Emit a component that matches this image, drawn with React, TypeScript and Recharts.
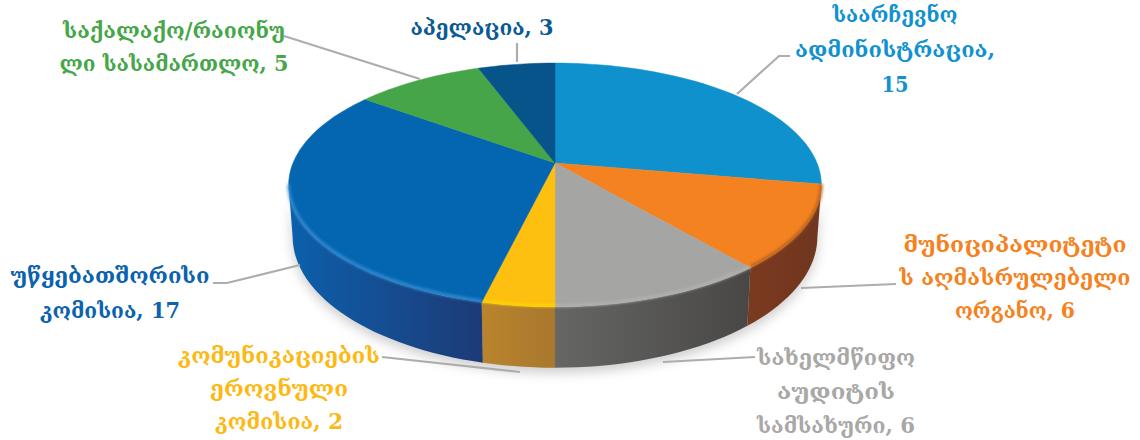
import { PieChart, Pie } from 'recharts'

const sliceNames = [
  'საარჩევნო ადმინისტრაცია',
  'მუნიციპალიტეტის აღმასრულებელი ორგანო',
  'სახელმწიფო აუდიტის სამსახური',
  'კომუნიკაციების ეროვნული კომისია',
  'უწყებათშორისი კომისია',
  'საქალაქო/რაიონული სასამართლო',
  'აპელაცია',
]
const sliceValues = [15, 6, 6, 2, 17, 5, 3]
const labelLines = [
  ['საარჩევნო', 'ადმინისტრაცია,', '15'],
  ['მუნიციპალიტეტი', 'ს აღმასრულებელი', 'ორგანო, 6'],
  ['სახელმწიფო', 'აუდიტის', 'სამსახური, 6'],
  ['კომუნიკაციების', 'ეროვნული', 'კომისია, 2'],
  ['უწყებათშორისი', 'კომისია, 17'],
  ['საქალაქო/რაიონუ', 'ლი სასამართლო, 5'],
  ['აპელაცია, 3'],
]

const TOP_COLORS = ['#0f91cd', '#f58220', '#a5a5a3', '#fdbf10', '#0465b1', '#47a549', '#06548a']
const TEXT_COLORS = ['#1192cf', '#f58220', '#a8a8a6', '#fdb913', '#0b62ad', '#46a649', '#0b5a92']
const WALL_LEFT = ['#0f78ad', '#7a3a1f', '#666664', '#b9842c', '#0c60ac', '#2c7a30', '#04406c']
const WALL_RIGHT = ['#0a5c85', '#70361f', '#484745', '#a8782e', '#1d3a76', '#2c7a30', '#04406c']
const RIM_COLORS = ['#0f91cd', '#a85a1e', '#b4b4b2', '#ffd800', '#3d94d6', '#47a549', '#06548a']

// label anchor (centre x, first baseline, line step), line widths and leader polyline
const LABEL_POS = [
  { x: 895, y: 22, step: 35, widths: [125, 200, 27], line: [[737, 94], [779, 56], [790, 56]] },
  { x: 1015, y: 252, step: 33, widths: [223, 231, 120], line: [[801, 288], [896, 284]] },
  { x: 836, y: 365, step: 34, widths: [158, 118, 158], line: [[663, 362], [755, 357]] },
  { x: 279, y: 363, step: 33, widths: [202, 138, 128], line: [[520, 372], [382, 357]] },
  { x: 110, y: 283, step: 35, widths: [199, 140], line: [[300, 265], [227, 283], [213, 283]] },
  { x: 174, y: 38, step: 33, widths: [222, 229], line: [[420, 79], [284, 36]] },
  { x: 482, y: 35, step: 33, widths: [143], line: [[517, 62], [517, 43]] },
]

const chartData = sliceNames.map((name, i) => ({ name, value: sliceValues[i], fill: TOP_COLORS[i] }))

// fake 3D: the flat pie angles go through a small perspective projection
const TILT = 0.18
const FLATTEN = 0.45
const DEPTH = 50
const FRONT_FROM = 100.4
const FRONT_TO = 259.6

function project(p: any, theta: number, depth = 0) {
  const t = (theta * Math.PI) / 180
  const w = 1 + TILT * Math.cos(t)
  const squeeze = depth > 0 ? 0.985 : 1
  const x = p.cx + (squeeze * p.outerRadius * Math.sin(t)) / w
  const y = p.cy - (p.outerRadius * FLATTEN * Math.cos(t)) / w + depth / w
  return `${x.toFixed(1)},${y.toFixed(1)}`
}

function arc(p: any, from: number, to: number, depth = 0) {
  const pts: string[] = []
  const n = Math.max(2, Math.ceil(Math.abs(to - from) / 2))
  for (let i = 0; i <= n; i++) pts.push(project(p, from + ((to - from) * i) / n, depth))
  return pts
}

// recharts angles run counter clockwise from east, here clockwise from north
function thetas(p: any) {
  return [90 - p.startAngle, 90 - p.endAngle]
}

function WallShape(props: any) {
  const i = sliceNames.indexOf(props.name)
  const [a, b] = thetas(props)
  const from = Math.max(a, FRONT_FROM)
  const to = Math.min(b, FRONT_TO)
  if (to <= from) return <g />
  const top = arc(props, from, to)
  const bottom = arc(props, to, from, DEPTH)
  const id = `wall-${i}`
  return (
    <g>
      <defs>
        <linearGradient id={id} x1="0" x2="1" y1="0" y2="0">
          <stop offset="0%" stopColor={WALL_LEFT[i]} />
          <stop offset="100%" stopColor={WALL_RIGHT[i]} />
        </linearGradient>
      </defs>
      <path d={`M${top.join('L')}L${bottom.join('L')}Z`} fill={`url(#${id})`} />
    </g>
  )
}

function TopShape(props: any) {
  const i = sliceNames.indexOf(props.name)
  const [a, b] = thetas(props)
  const from = Math.max(a, FRONT_FROM)
  const to = Math.min(b, FRONT_TO)
  const outline = arc(props, a, b)
  return (
    <g>
      <path
        d={`M${props.cx},${props.cy}L${outline.join('L')}Z`}
        fill={TOP_COLORS[i]}
        stroke={TOP_COLORS[i]}
        strokeWidth={0.5}
      />
      {to > from && (
        <path
          d={`M${arc(props, from, to, -1).join('L')}`}
          fill="none"
          stroke={RIM_COLORS[i]}
          strokeWidth={2.5}
          style={{ filter: 'blur(1.4px)' }}
        />
      )}
    </g>
  )
}

function SliceLabel(props: any) {
  const i = sliceNames.indexOf(props.name)
  const pos = LABEL_POS[i]
  return (
    <g>
      <polyline
        points={pos.line.map(pt => pt.join(',')).join(' ')}
        fill="none"
        stroke="#adadad"
        strokeWidth={2.2}
      />
      {labelLines[i].map((line, k) => (
        <text
          key={k}
          x={pos.x}
          y={pos.y + k * pos.step}
          textAnchor="middle"
          textLength={pos.widths[k]}
          lengthAdjust="spacingAndGlyphs"
          fontFamily="'DejaVu Serif', serif"
          fontSize={22}
          fontWeight="bold"
          fill={TEXT_COLORS[i]}
        >
          {line}
        </text>
      ))}
    </g>
  )
}

export default function App() {
  return (
    <div style={{ position: 'fixed', left: 0, top: 0, width: 1140, height: 440, background: '#fff' }}>
      <style>{`.pie-walls { filter: drop-shadow(0 5px 6px rgba(0,0,0,.2)); }`}</style>
      <PieChart width={1140} height={440} margin={{ top: 0, right: 0, bottom: 0, left: 0 }}>
        <Pie
          className="pie-walls"
          data={chartData}
          dataKey="value"
          nameKey="name"
          cx={555}
          cy={163}
          outerRadius={262}
          startAngle={90}
          endAngle={-270}
          shape={WallShape}
          label={false}
          labelLine={false}
          isAnimationActive={false}
        />
        <Pie
          data={chartData}
          dataKey="value"
          nameKey="name"
          cx={555}
          cy={163}
          outerRadius={262}
          startAngle={90}
          endAngle={-270}
          shape={TopShape}
          label={SliceLabel}
          labelLine={false}
          isAnimationActive={false}
        />
      </PieChart>
    </div>
  )
}
